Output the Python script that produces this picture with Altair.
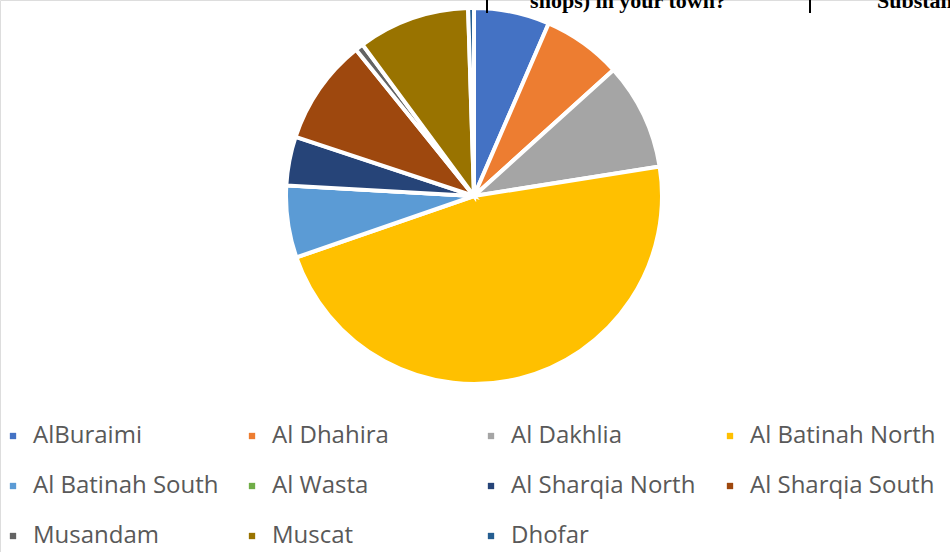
import altair as alt
import pandas as pd

regions = ["AlBuraimi", "Al Dhahira", "Al Dakhlia", "Al Batinah North",
           "Al Batinah South", "Al Wasta", "Al Sharqia North", "Al Sharqia South",
           "Musandam", "Muscat", "Dhofar"]
shares = [6.5, 6.8, 9.2, 47.2, 6.2, 0.0, 4.2, 9.1, 0.7, 9.6, 0.5]
colors = ["#4472C4", "#ED7D31", "#A5A5A5", "#FFC000", "#5B9BD5", "#70AD47",
          "#264478", "#9E480E", "#636363", "#997300", "#255E91"]

header_texts = ["shops) in your town?", "Substands"]

df = pd.DataFrame({"region": regions, "share": shares, "idx": list(range(len(regions)))})

pie = alt.Chart(df).mark_arc(
    outerRadius=188, x=474, y=196, stroke="white", strokeWidth=4
).encode(
    theta=alt.Theta("share:Q", stack=True),
    order=alt.Order("idx:Q"),
    color=alt.Color(
        "region:N",
        scale=alt.Scale(domain=regions, range=colors),
        legend=alt.Legend(
            title=None, orient="none", legendX=1, legendY=424,
            direction="horizontal", columns=4, gridAlign="all",
            columnPadding=21, rowPadding=26,
            symbolType="square", symbolSize=40, symbolStrokeWidth=0,
            labelFont="Open Sans", labelFontSize=24, labelColor="#595959",
            labelOffset=8, labelLimit=400,
        ),
    ),
)

hdf = pd.DataFrame({"t": header_texts})
head1 = alt.Chart(hdf.iloc[[0]]).mark_text(
    font="Liberation Serif", fontWeight="bold", fontSize=22, baseline="alphabetic",
    align="center", y=8, x=628, color="#000000"
).encode(text="t:N")
head2 = alt.Chart(hdf.iloc[[1]]).mark_text(
    font="Liberation Serif", fontWeight="bold", fontSize=22, baseline="alphabetic",
    align="left", y=8, x=877, color="#000000"
).encode(text="t:N")

lines = alt.Chart(pd.DataFrame({"lx": [487, 810]})).mark_rule(
    color="#000000", strokeWidth=2
).encode(x=alt.X("lx:Q", scale=None), y=alt.value(0), y2=alt.value(13))

chart = alt.layer(pie, head1, head2, lines).properties(
    width=950, height=552, autosize=alt.AutoSizeParams(type="none"), padding=0
).configure_view(stroke=None).configure(background="white")

chart.save("out.html", embed_options={"renderer": "svg", "actions": False})
